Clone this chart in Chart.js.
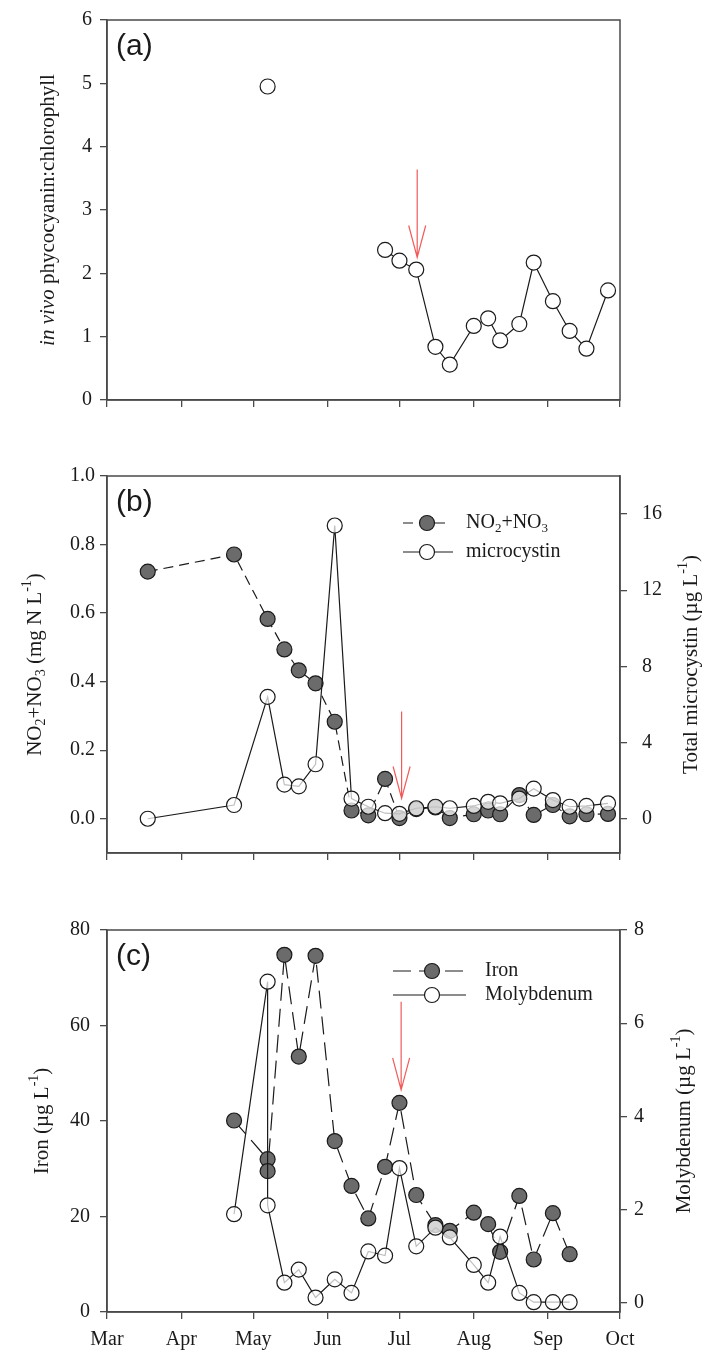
<!DOCTYPE html>
<html>
<head>
<meta charset="utf-8">
<title>Phycocyanin, nitrate, microcystin, iron and molybdenum</title>
<script src="https://cdn.jsdelivr.net/npm/chart.js@4.4.0/dist/chart.umd.min.js"></script>
<style>
  html, body { margin: 0; padding: 0; background: #fff; }
  #wrap { position: relative; width: 705px; height: 1355px; }
  canvas { position: absolute; left: 0; }
</style>
</head>
<body>
<div id="wrap">
  <canvas id="chartA" width="705" height="420" style="top:0px"></canvas>
  <canvas id="chartB" width="705" height="440" style="top:440px"></canvas>
  <canvas id="chartC" width="705" height="455" style="top:900px"></canvas>
</div>
<script>
// --- assi temporali (giorni dal 1 marzo) ---
const monthTicks = [0, 31, 61, 92, 122, 153, 184, 214];
const monthLabels = ['Mar', 'Apr', 'May', 'Jun', 'Jul', 'Aug', 'Sep', 'Oct'];

// (a) in vivo phycocyanin:chlorophyll
const datesA = ['05-07', '06-25', '07-01', '07-08', '07-16', '07-22', '08-01', '08-07',
                '08-12', '08-20', '08-26', '09-03', '09-10', '09-17', '09-26'];
const phycoRatio = [4.95, 2.37, 2.20, 2.06, 0.84, 0.56, 1.17, 1.29, 0.94, 1.20, 2.17, 1.56, 1.09, 0.81, 1.73];
const ticksA = [0, 1, 2, 3, 4, 5, 6];

// (b) NO2+NO3 e microcistina
const datesB = ['03-18', '04-23', '05-07', '05-14', '05-20', '05-27', '06-04', '06-11', '06-18', '06-25',
                '07-01', '07-08', '07-16', '07-22', '08-01', '08-07', '08-12', '08-20', '08-26', '09-03',
                '09-10', '09-17', '09-26'];
const nitrate = [0.721, 0.771, 0.583, 0.494, 0.433, 0.395, 0.283, 0.024, 0.010, 0.116,
                 0.002, 0.028, 0.033, 0.002, 0.013, 0.024, 0.013, 0.069, 0.011, 0.040,
                 0.007, 0.013, 0.014];
const microcystin = [0.0, 0.72, 6.4, 1.79, 1.70, 2.86, 15.4, 1.06, 0.63, 0.29,
                     0.26, 0.55, 0.63, 0.55, 0.67, 0.89, 0.81, 1.06, 1.58, 0.98,
                     0.63, 0.67, 0.81];
const ticksBLeft = [0, 0.2, 0.4, 0.6, 0.8, 1.0];
const ticksBRight = [0, 4, 8, 12, 16];

// (c) ferro e molibdeno
const datesC = ['04-23', '05-07', '05-07', '05-14', '05-20', '05-27', '06-04', '06-11', '06-18', '06-25',
                '07-01', '07-08', '07-16', '07-22', '08-01', '08-07', '08-12', '08-20', '08-26', '09-03',
                '09-10'];
const iron = [40.1, 32.0, 29.5, 74.8, 53.5, 74.6, 35.8, 26.4, 19.6, 30.4,
              43.8, 24.5, 18.2, 17.0, 20.8, 18.4, 12.6, 24.3, 11.0, 20.7, 12.1];
const molybdenum = [1.90, 6.89, 2.09, 0.43, 0.71, 0.11, 0.50, 0.21, 1.10, 1.01,
                    2.89, 1.21, 1.61, 1.40, 0.81, 0.43, 1.42, 0.21, 0.01, 0.01, 0.01];
const ticksCLeft = [0, 20, 40, 60, 80];
const ticksCRight = [0, 2, 4, 6, 8];

// frecce rosse (giorno, valore inizio, valore punta) per pannello a, b, c
const arrowDay = [129.4, 122.9, 122.7];
const arrowTop = [3.64, 0.313, 65.0];
const arrowTip = [2.25, 0.059, 46.5];

// --- stile ---
const SERIF = '"Liberation Serif", "Times New Roman", serif';
const SANS = '"Liberation Sans", Arial, sans-serif';
const AXIS = '#4a4a4a';
const TXT = '#1a1a1a';
const INK = '#1a1a1a';
const GRAY = '#6b6b6b';
const OPEN = 'rgba(255,255,255,0.72)';
const RED = '#f25a5a';
const FS = 20;
const FS_TITLE = 21;

const monthStartDay = { 3: 0, 4: 31, 5: 61, 6: 92, 7: 122, 8: 153, 9: 184, 10: 214 };
function dayOf(md) {
    const [m, d] = md.split('-').map(Number);
    return monthStartDay[m] + d - 1;
}
const pts = (dates, vals) => dates.map((d, i) => ({ x: dayOf(d), y: vals[i] }));

function xScale(showLabels, height) {
    return {
        type: 'linear', min: 0, max: 214,
        grid: { drawOnChartArea: false, drawTicks: true, tickLength: 7, color: AXIS, lineWidth: 1.3 },
        border: { color: AXIS, width: 1.5 },
        afterBuildTicks: s => { s.ticks = monthTicks.map(v => ({ value: v })); },
        ticks: {
            display: showLabels, autoSkip: false, maxRotation: 0, padding: 9, color: TXT,
            font: { family: SERIF, size: FS },
            callback: v => monthLabels[monthTicks.indexOf(v)]
        },
        afterFit: s => { s.height = height; }
    };
}

function yScale(pos, min, max, tickVals, fmt, width, pad) {
    return {
        type: 'linear', position: pos, min: min, max: max,
        grid: { drawOnChartArea: false, drawTicks: true, tickLength: 7, color: AXIS, lineWidth: 1.3 },
        border: { color: AXIS, width: 1.5 },
        afterBuildTicks: s => { s.ticks = tickVals.map(v => ({ value: v })); },
        ticks: { autoSkip: false, padding: pad, color: TXT, font: { family: SERIF, size: FS }, callback: v => fmt(v) },
        afterFit: s => { s.width = width; }
    };
}

// testo con pedici/apici/corsivo
function drawRich(ctx, segs, x, y, rot, size, align) {
    ctx.save();
    ctx.translate(x, y);
    ctx.rotate(rot);
    const fontFor = s => (s.i ? 'italic ' : '') + ((s.sub || s.sup) ? Math.round(size * 0.66) : size) + 'px ' + SERIF;
    let w = 0;
    segs.forEach(s => { ctx.font = fontFor(s); w += ctx.measureText(s.t).width; });
    let px = align === 'left' ? 0 : -w / 2;
    ctx.textBaseline = 'middle';
    ctx.textAlign = 'left';
    ctx.fillStyle = TXT;
    segs.forEach(s => {
        ctx.font = fontFor(s);
        const dy = s.sub ? size * 0.3 : (s.sup ? -size * 0.36 : 0);
        ctx.fillText(s.t, px, dy);
        px += ctx.measureText(s.t).width;
    });
    ctx.restore();
}

const ugL = [{ t: ' (\u00b5g L' }, { t: '-1', sup: true }, { t: ')' }];
const decor = {
    chartA: {
        label: '(a)', arrow: 0, yId: 'y',
        left: { x: 48, segs: [{ t: 'in vivo', i: true }, { t: ' phycocyanin:chlorophyll' }] },
        legend: []
    },
    chartB: {
        label: '(b)', arrow: 1, yId: 'y',
        left: { x: 35, segs: [{ t: 'NO' }, { t: '2', sub: true }, { t: '+NO' }, { t: '3', sub: true },
                              { t: ' (mg N L' }, { t: '-1', sup: true }, { t: ')' }] },
        right: { x: 691, segs: [{ t: 'Total microcystin' }].concat(ugL) },
        legend: [
            { ds: 1, dy: 47, x1: 403, x2: 447, mx: 427, tx: 466,
              segs: [{ t: 'NO' }, { t: '2', sub: true }, { t: '+NO' }, { t: '3', sub: true }] },
            { ds: 0, dy: 76, x1: 403, x2: 453, mx: 427, tx: 466, segs: [{ t: 'microcystin' }] }
        ]
    },
    chartC: {
        label: '(c)', arrow: 2, yId: 'y',
        left: { x: 42, segs: [{ t: 'Iron' }].concat(ugL) },
        right: { x: 684, segs: [{ t: 'Molybdenum' }].concat(ugL) },
        legend: [
            { ds: 1, dy: 41, x1: 393, x2: 466, mx: 432, tx: 485, segs: [{ t: 'Iron' }] },
            { ds: 0, dy: 65, x1: 393, x2: 466, mx: 432, tx: 485, segs: [{ t: 'Molybdenum' }] }
        ]
    }
};

const decorPlugin = {
    id: 'decor',
    afterDraw(chart) {
        const d = decor[chart.canvas.id];
        const ctx = chart.ctx;
        const a = chart.chartArea;

        // cornice
        ctx.save();
        ctx.strokeStyle = AXIS;
        ctx.lineWidth = 1.5;
        ctx.strokeRect(a.left, a.top, a.right - a.left, a.bottom - a.top);
        ctx.restore();

        // etichetta pannello
        ctx.save();
        ctx.font = '30px ' + SANS;
        ctx.fillStyle = TXT;
        ctx.textBaseline = 'middle';
        ctx.fillText(d.label, a.left + 9, a.top + 27);
        ctx.restore();

        // titoli assi
        const cy = (a.top + a.bottom) / 2;
        drawRich(ctx, d.left.segs, d.left.x, cy, -Math.PI / 2, FS_TITLE, 'center');
        if (d.right) drawRich(ctx, d.right.segs, d.right.x, cy, -Math.PI / 2, FS_TITLE, 'center');

        // freccia rossa
        const i = d.arrow;
        const xs = chart.scales.x, ys = chart.scales[d.yId];
        const ax = xs.getPixelForValue(arrowDay[i]);
        const y0 = ys.getPixelForValue(arrowTop[i]);
        const y1 = ys.getPixelForValue(arrowTip[i]);
        ctx.save();
        ctx.strokeStyle = RED;
        ctx.lineWidth = 1.2;
        ctx.beginPath();
        ctx.moveTo(ax, y0); ctx.lineTo(ax, y1);
        ctx.moveTo(ax - 8.5, y1 - 32); ctx.lineTo(ax, y1); ctx.lineTo(ax + 8.5, y1 - 32);
        ctx.stroke();
        ctx.restore();

        // legenda
        d.legend.forEach(item => {
            const ds = chart.data.datasets[item.ds];
            const y = a.top + item.dy;
            ctx.save();
            ctx.strokeStyle = INK;
            ctx.lineWidth = 1.2;
            ctx.setLineDash(ds.borderDash || []);
            ctx.beginPath();
            ctx.moveTo(item.x1, y); ctx.lineTo(item.x2, y);
            ctx.stroke();
            ctx.setLineDash([]);
            ctx.beginPath();
            ctx.arc(item.mx, y, ds.pointRadius, 0, Math.PI * 2);
            ctx.fillStyle = ds.pointBackgroundColor === OPEN ? '#fff' : ds.pointBackgroundColor;
            ctx.fill();
            ctx.lineWidth = ds.pointBorderWidth;
            ctx.stroke();
            ctx.restore();
            drawRich(ctx, item.segs, item.tx, y, 0, FS, 'left');
        });
    }
};
Chart.register(decorPlugin);

const baseOptions = (padTop, scales) => ({
    responsive: false,
    animation: false,
    events: [],
    layout: { padding: { top: padTop, left: 0, right: scales.yR ? 0 : 85, bottom: 0 } },
    plugins: { legend: { display: false }, tooltip: { enabled: false } },
    scales: scales
});

const pointStyle = (fill) => ({
    borderColor: INK, borderWidth: 1.2, tension: 0,
    pointRadius: 7.5, pointBorderWidth: 1.2, pointBorderColor: INK, pointBackgroundColor: fill
});

// Pannello (a)
const daysA = datesA.map(dayOf);
new Chart(document.getElementById('chartA'), {
    type: 'line',
    data: {
        datasets: [Object.assign({
            label: 'phycocyanin:chlorophyll',
            data: pts(datesA, phycoRatio),
            // nessun collegamento attraverso il buco di campionamento
            segment: { borderColor: c => (daysA[c.p1DataIndex] - daysA[c.p0DataIndex] > 40 ? 'rgba(0,0,0,0)' : INK) }
        }, pointStyle('#fff'))]
    },
    options: baseOptions(16, {
        x: xScale(false, 20),
        y: yScale('left', 0, 6, ticksA, v => String(v), 107, 8)
    })
});

// Pannello (b)
new Chart(document.getElementById('chartB'), {
    type: 'line',
    data: {
        datasets: [
            Object.assign({ label: 'microcystin', data: pts(datesB, microcystin), yAxisID: 'yR', order: 0 }, pointStyle(OPEN)),
            Object.assign({ label: 'NO2+NO3', data: pts(datesB, nitrate), yAxisID: 'y', order: 1, borderDash: [10, 6] }, pointStyle(GRAY))
        ]
    },
    options: baseOptions(36, {
        x: xScale(false, 19),
        y: yScale('left', -0.1, 1.0, ticksBLeft, v => v.toFixed(1), 107, 5),
        yR: yScale('right', -1.8, 18, ticksBRight, v => String(v), 85, 15)
    })
});

// Pannello (c)
new Chart(document.getElementById('chartC'), {
    type: 'line',
    data: {
        datasets: [
            Object.assign({ label: 'Molybdenum', data: pts(datesC, molybdenum), yAxisID: 'yR', order: 0 }, pointStyle(OPEN)),
            Object.assign({ label: 'Iron', data: pts(datesC, iron), yAxisID: 'y', order: 1, borderDash: [18, 8] }, pointStyle(GRAY))
        ]
    },
    options: baseOptions(30, {
        x: xScale(true, 43),
        y: yScale('left', 0, 80, ticksCLeft, v => String(v), 107, 10),
        yR: yScale('right', -0.2, 8, ticksCRight, v => String(v), 85, 7)
    })
});
</script>
</body>
</html>
